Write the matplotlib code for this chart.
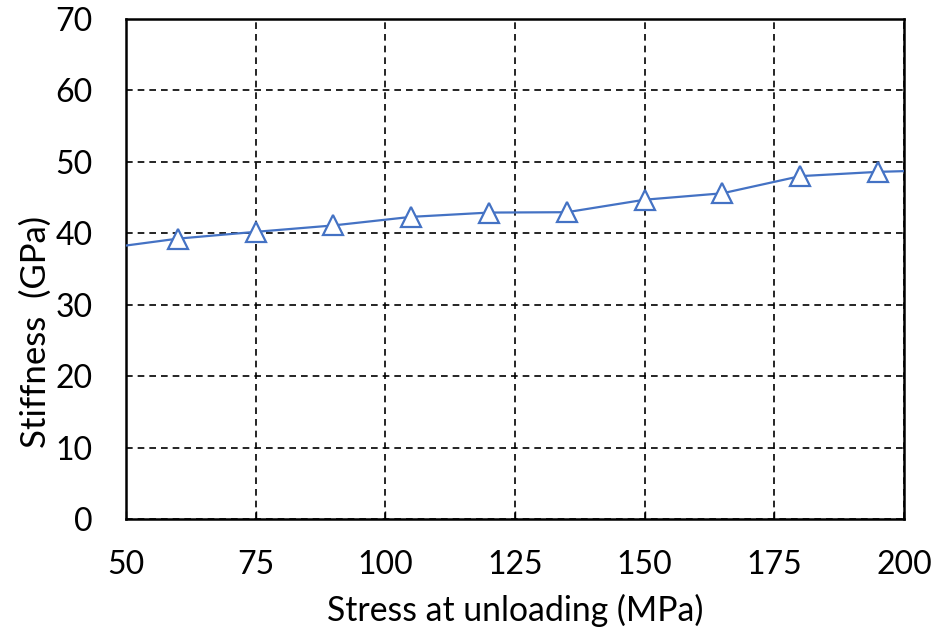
import matplotlib
matplotlib.use('Agg')
import matplotlib.pyplot as plt

plt.rcParams['font.family'] = ['Lato', 'DejaVu Sans']

# stress at unloading (MPa) and stiffness (GPa); first/last points lie just outside the axes
stress = [45, 60, 75, 90, 105, 120, 135, 150, 165, 180, 195, 210]
stiffness = [37.8, 39.25, 40.2, 41.1, 42.3, 42.9, 42.95, 44.7, 45.6, 48.0, 48.6, 48.9]

xticks = [50, 75, 100, 125, 150, 175, 200]
yticks = [0, 10, 20, 30, 40, 50, 60, 70]

fig = plt.figure(figsize=(9.45, 6.29), dpi=100)
ax = fig.add_axes([0.1333, 0.1749, 0.8233, 0.7949])

ax.plot(stress, stiffness, color='#4472C4', lw=1.6, marker='^', ms=15,
        mfc='white', mec='#4472C4', mew=1.6, clip_on=True, zorder=3)

ax.set_xlim(50, 200)
ax.set_ylim(0, 70)
ax.set_xticks(xticks)
ax.set_yticks(yticks)
ax.grid(True, color='black', ls=(0, (4, 3)), lw=1.2)
ax.set_axisbelow(True)

for s in ax.spines.values():
    s.set_linewidth(1.8)
    s.set_color('black')

ax.tick_params(axis='x', direction='in', length=6, width=1, pad=22, labelsize=23)
ax.tick_params(axis='y', direction='in', length=0, pad=24, labelsize=23)

ax.set_xlabel('Stress at unloading (MPa)', fontsize=24.3, labelpad=10)
ax.set_ylabel('Stiffness  (GPa)', fontsize=25)
ax.yaxis.set_label_coords(-0.095, 0.374)

fig.savefig('out.png', dpi=100)
